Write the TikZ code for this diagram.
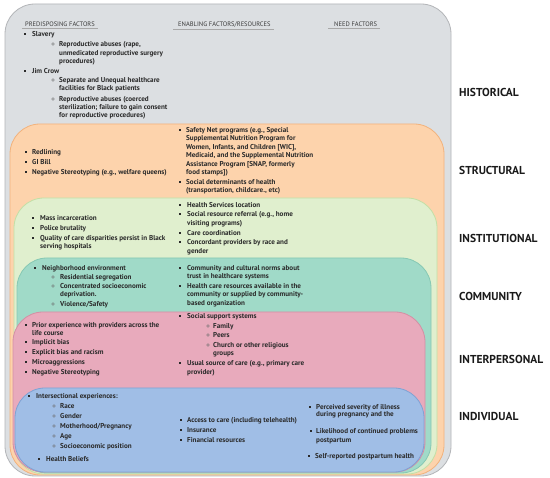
\documentclass[tikz,border=0pt]{standalone}
\usepackage{fontspec}
\setmainfont{PT Sans}
\usetikzlibrary{calc}
\definecolor{grayf}{HTML}{DCDFE2}
\definecolor{grayd}{HTML}{B3B5B8}
\definecolor{orangef}{HTML}{FDD3AC}
\definecolor{oranged}{HTML}{F2B27C}
\definecolor{greenf}{HTML}{E0EFCE}
\definecolor{greend}{HTML}{C3DFA6}
\definecolor{tealf}{HTML}{A0DAC8}
\definecolor{teald}{HTML}{86C8B3}
\definecolor{pinkf}{HTML}{E8AABC}
\definecolor{pinkd}{HTML}{D38FA4}
\definecolor{bluef}{HTML}{A0BEE6}
\definecolor{blued}{HTML}{7FA2D3}
\definecolor{txtc}{HTML}{2A2A2A}
\definecolor{hdrc}{HTML}{3A3A3A}
\definecolor{lvlc}{HTML}{1A1A1A}
\definecolor{ulc}{HTML}{A8A8A8}
\begin{document}
\begin{tikzpicture}[x=1pt,y=-1pt,
  txt/.style={anchor=mid west, inner sep=0pt, font=\fontsize{7.1}{8.6}\selectfont\bfseries, text=txtc},
  hdr/.style={anchor=mid west, inner sep=0pt, font=\fontsize{6.5}{8}\selectfont, text=hdrc},
  lvl/.style={anchor=mid west, inner sep=0pt, font=\fontsize{11.5}{13}\selectfont\bfseries, text=lvlc},
  layer/.style={line width=0.8pt, rounded corners=30pt},
  uline/.style={draw=ulc, line width=0.6pt},
]
\newcommand\sqb[2]{\fill[txtc] (#1-1.1,#2-1.1) rectangle (#1+1.1,#2+1.1);}
\newcommand\cib[2]{\draw[txtc!70, line width=0.45pt] (#1,#2) circle (1.35pt);}
\newcommand\tl[4]{\node[txt] (#1) at (#2,#3) {#4};}
\useasboundingbox (0,0) rectangle (550,478);
\fill[white] (0,0) rectangle (550,478);
% layers
\path[layer, fill=grayf, draw=grayd] (5,4) rectangle (451,476);
\path[layer, fill=orangef, draw=oranged] (10,124) rectangle (444,475);
\path[layer, fill=greenf, draw=greend] (14,198) rectangle (437,474);
\path[layer, fill=tealf, draw=teald] (17,258) rectangle (431,473);
\path[layer, fill=pinkf, draw=pinkd] (13,312) rectangle (425,472);
\path[layer, fill=bluef, draw=blued] (15,388) rectangle (424,472);
% headers
\node[hdr] (h1) at (25,24) {PREDISPOSING FACTORS};
\node[hdr] (h2) at (178,24) {ENABLING FACTORS/RESOURCES};
\node[hdr] (h3) at (334,24) {NEED FACTORS};
\draw[uline] ($(h1.south west)+(-3,2)$) -- ($(h1.south east)+(3,2)$);
\draw[uline] ($(h2.south west)+(-5,2)$) -- ($(h2.south east)+(3,2)$);
\draw[uline] ($(h3.south west)+(-6,2)$) -- ($(h3.south east)+(3,2)$);
% level labels
\node[lvl] (l1) at (459,94) {HISTORICAL};
\node[lvl] (l2) at (459,172) {STRUCTURAL};
\node[lvl] (l3) at (459,240) {INSTITUTIONAL};
\node[lvl] (l4) at (459,298) {COMMUNITY};
\node[lvl] (l5) at (459,361) {INTERPERSONAL};
\node[lvl] (l6) at (459,418) {INDIVIDUAL};
% historical
\sqb{25}{34}\tl{a1}{32}{34}{Slavery}
\cib{53}{44}\tl{a2}{59}{44}{Reproductive abuses (rape,}
\tl{a3}{59}{53}{unmedicated reproductive surgery}
\tl{a4}{59}{61}{procedures)}
\sqb{25}{71}\tl{a5}{32}{71}{Jim Crow}
\cib{53}{80}\tl{a6}{59}{80}{Separate and Unequal healthcare}
\tl{a7}{59}{88}{facilities for Black patients}
\cib{53}{99}\tl{a8}{59}{99}{Reproductive abuses (coerced}
\tl{a9}{59}{107}{sterilization; failure to gain consent}
\tl{a10}{59}{115}{for reproductive procedures)}
% structural
\sqb{26}{152}\tl{b1}{32}{152}{Redlining}
\sqb{26}{162}\tl{b2}{32}{162}{GI Bill}
\sqb{26}{172}\tl{b3}{32}{172}{Negative Stereotyping (e.g., welfare queens)}
\sqb{180}{130}\tl{b4}{186}{130}{Safety Net programs (e.g., Special}
\tl{b5}{186}{138.5}{Supplemental Nutrition Program for}
\tl{b6}{186}{147}{Women, Infants, and Children [WIC],}
\tl{b7}{186}{155.5}{Medicaid, and the Supplemental Nutrition}
\tl{b8}{186}{164}{Assistance Program [SNAP, formerly}
\tl{b9}{186}{172.5}{food stamps])}
\sqb{180}{182}\tl{b10}{186}{182}{Social determinants of health}
\tl{b11}{186}{190}{(transportation, childcare., etc)}
% institutional
\sqb{33}{218}\tl{c1}{40}{218}{Mass incarceration}
\sqb{33}{228}\tl{c2}{40}{228}{Police brutality}
\sqb{33}{238}\tl{c3}{40}{238}{Quality of care disparities persist in Black}
\tl{c4}{40}{246}{serving hospitals}
\sqb{180}{205}\tl{c5}{187}{205}{Health Services location}
\sqb{180}{214}\tl{c6}{187}{214}{Social resource referral (e.g., home}
\tl{c7}{187}{223}{visiting programs)}
\sqb{180}{233}\tl{c8}{187}{233}{Care coordination}
\sqb{180}{242}\tl{c9}{187}{242}{Concordant providers by race and}
\tl{c10}{187}{251}{gender}
% community
\sqb{35}{268}\tl{d1}{42}{268}{Neighborhood environment}
\cib{53}{277}\tl{d2}{60}{277}{Residential segregation}
\cib{53}{286}\tl{d3}{60}{286}{Concentrated socioeconomic}
\tl{d4}{60}{294}{deprivation.}
\cib{53}{304}\tl{d5}{60}{304}{Violence/Safety}
\sqb{180}{268}\tl{d6}{187}{268}{Community and cultural norms about}
\tl{d7}{187}{276}{trust in healthcare systems}
\sqb{180}{286}\tl{d8}{187}{286}{Health care resources available in the}
\tl{d9}{187}{294}{community or supplied by community-}
\tl{d10}{187}{303}{based organization}
% interpersonal
\sqb{26}{325}\tl{e1}{32}{325}{Prior experience with providers across the}
\tl{e2}{32}{333}{life course}
\sqb{26}{342}\tl{e3}{32}{342}{Implicit bias}
\sqb{26}{352}\tl{e4}{32}{352}{Explicit bias and racism}
\sqb{26}{362}\tl{e5}{32}{362}{Microaggressions}
\sqb{26}{372}\tl{e6}{32}{372}{Negative Stereotyping}
\sqb{180}{316}\tl{e7}{187}{316}{Social support systems}
\cib{208}{326}\tl{e8}{213}{326}{Family}
\cib{208}{335}\tl{e9}{213}{335}{Peers}
\cib{208}{345}\tl{e10}{213}{345}{Church or other religious}
\tl{e11}{213}{353}{groups}
\sqb{180}{363}\tl{e12}{187}{363}{Usual source of care (e.g., primary care}
\tl{e13}{187}{372}{provider)}
% individual
\sqb{29}{396}\tl{f1}{36}{396}{Intersectional experiences:}
\cib{54}{406}\tl{f2}{60}{406}{Race}
\cib{54}{416}\tl{f3}{60}{416}{Gender}
\cib{54}{426}\tl{f4}{60}{426}{Motherhood/Pregnancy}
\cib{54}{436}\tl{f5}{60}{436}{Age}
\cib{54}{446}\tl{f6}{60}{446}{Socioeconomic position}
\sqb{39}{459}\tl{f7}{46}{459}{Health Beliefs}
\sqb{181}{420}\tl{f8}{187}{420}{Access to care (including telehealth)}
\sqb{181}{430}\tl{f9}{187}{430}{Insurance}
\sqb{181}{440}\tl{f10}{187}{440}{Financial resources}
\sqb{310}{407}\tl{f11}{316}{407}{Perceived severity of illness}
\tl{f12}{316}{414.5}{during pregnancy and the}
\sqb{311}{431}\tl{f13}{316}{431}{Likelihood of continued problems}
\tl{f14}{316}{440}{postpartum}
\sqb{309}{456}\tl{f15}{315}{456}{Self-reported postpartum health}
\end{tikzpicture}
\end{document}
